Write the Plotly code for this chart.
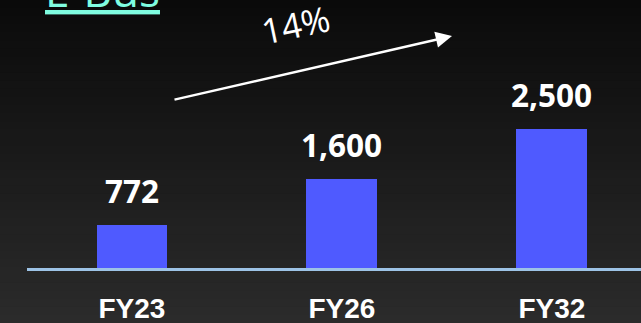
import plotly.graph_objects as go

# ---- data ----
categories = ["FY23", "FY26", "FY32"]
values = [772, 1600, 2500]
value_labels = ["772", "1,600", "2,500"]
cagr_label = "14%"
title_text = "E-Bus"

# ---- geometry ----
W, H = 641, 323
L, R, T, B = 27, 0, 0, 55
PW, PH = W - L - R, H - T - B


def px(x):
    return (x - L) / PW


def py(y):
    return (H - B - y) / PH


fig = go.Figure()
fig.add_trace(go.Bar(
    x=categories, y=values, width=0.338,
    marker=dict(color="#4F5AFF", line=dict(width=0)),
    hoverinfo="skip",
))

# background vertical gradient
shapes = []
n = 40
c0, c1 = 10, 43
for i in range(n):
    y0 = i * H / n
    y1 = (i + 1) * H / n + 0.5
    c = round(c0 + (c1 - c0) * (i + 0.5) / n)
    col = f"rgb({c},{c},{c})"
    shapes.append(dict(type="rect", xref="paper", yref="paper", layer="below",
                       x0=px(-2), x1=px(W + 2), y0=py(y1), y1=py(y0),
                       fillcolor=col, line=dict(width=0)))

annotations = []
for cat, v, lab in zip(categories, values, value_labels):
    annotations.append(dict(x=cat, y=v, xref="x", yref="y", text=lab,
                            showarrow=False, yanchor="bottom", yshift=11,
                            font=dict(family="Open Sans", size=31.5, color="white", weight="bold")))

# growth arrow
annotations.append(dict(x=px(452), y=py(36), xref="paper", yref="paper",
                        ax=173 - 452, ay=100 - 36, axref="pixel", ayref="pixel",
                        text="", showarrow=True, arrowhead=2, arrowsize=1.3,
                        arrowwidth=2.5, arrowcolor="white"))
annotations.append(dict(x=px(295), y=py(24), xref="paper", yref="paper",
                        xanchor="center", yanchor="middle",
                        text=cagr_label, showarrow=False, textangle=-12,
                        font=dict(family="Open Sans", size=35, color="white")))
# title (cut off at top)
annotations.append(dict(x=px(102), y=py(22), xref="paper", yref="paper",
                        text="<u>" + title_text + "</u>", showarrow=False,
                        xanchor="center", yanchor="bottom",
                        font=dict(family="Open Sans", size=44, color="#7FFCE0")))

fig.update_layout(
    width=W, height=H,
    margin=dict(l=L, r=R, t=T, b=B, pad=0),
    paper_bgcolor="#1c1c1c", plot_bgcolor="rgba(0,0,0,0)",
    showlegend=False,
    bargap=0,
    shapes=shapes,
    annotations=annotations,
    xaxis=dict(type="category", range=[-0.5, 2.424], showgrid=False, zeroline=False,
               automargin=False,
               showline=True, linecolor="#9DC3E6", linewidth=3,
               ticks="", ticklabelstandoff=13,
               tickfont=dict(family="Liberation Sans, Arial", size=28,
                             color="white", weight="bold")),
    yaxis=dict(range=[0, 4820], visible=False, showgrid=False, zeroline=False,
               automargin=False),
)

fig.write_html("out.html", config={"displayModeBar": False},
               post_script="document.body.style.margin='0';document.body.style.padding='0';")
